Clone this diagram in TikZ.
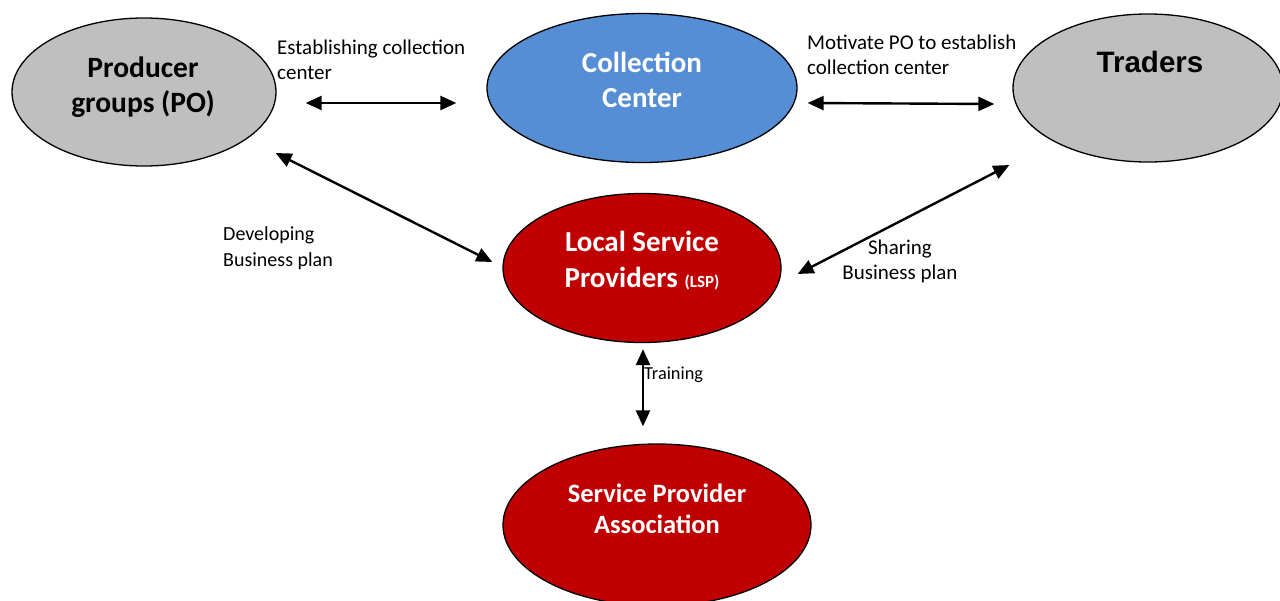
\documentclass[tikz,border=0pt]{standalone}
\usepackage{fontspec}
\setmainfont{Carlito}
\newfontfamily\arialfont{Liberation Sans}
\usetikzlibrary{shapes.geometric}
\usetikzlibrary{arrows.meta}
\usetikzlibrary{calc}
\definecolor{poGray}{RGB}{191,191,191}
\definecolor{ccBlue}{RGB}{85,142,213}
\definecolor{lspRed}{RGB}{192,0,0}

\begin{document}
\begin{tikzpicture}[x=1pt,y=-1pt,
    blob/.style={ellipse,draw=black,line width=1.3pt,inner sep=0pt},
    bigtxt/.style={font=\bfseries\fontsize{29.5}{35}\selectfont,align=center,inner sep=0pt},
    note/.style={font=\fontsize{21}{25}\selectfont,align=left,inner sep=0pt},
    link/.style={line width=2.4pt,{Triangle[length=16pt,width=14pt]}-{Triangle[length=16pt,width=14pt]}}]
                    \clip (0,0) rectangle (1280,600);
                    % the five groups
                    \node[blob,fill=poGray,minimum width=264,minimum height=148] (po) at (144,92) {};
                    \node[blob,fill=ccBlue,minimum width=310,minimum height=149] (cc) at (642,88) {};
                    \node[blob,fill=poGray,minimum width=270,minimum height=148] (tr) at (1148,88) {};
                    \node[blob,fill=lspRed,minimum width=278,minimum height=149] (lsp) at (642,268) {};
                    \node[blob,fill=lspRed,minimum width=308,minimum height=162] (spa) at (657,525) {};
                    \node[bigtxt] (po-txt) at (143,87) {Producer\\groups (PO)};
                    \node[bigtxt,text=white,font=\bfseries\fontsize{29}{35}\selectfont] (cc-txt) at (642,80) {Collection\\Center};
                    \node[bigtxt,font=\arialfont\bfseries\fontsize{29.5}{35}\selectfont] (tr-txt) at (1150,62) {Traders};
                    \node[bigtxt,text=white,font=\bfseries\fontsize{29}{36}\selectfont] (lsp-txt) at (642,261)
                        {Local Service\\Providers {\fontsize{17}{17}\selectfont(LSP)}};
                    \node[bigtxt,text=white,font=\bfseries\fontsize{26.5}{31}\selectfont] (spa-txt) at (657,509)
                        {Service Provider\\Association};
                    % links between them
                    \draw[link] ($(po.east)+(29,11)$) -- ($(cc.west)+(-30,15)$);
                    \draw[link] ($(cc.east)+(10,15)$) -- ($(tr.west)+(-18,16)$);
                    \draw[link] ($(po.east)+(-1,61)$) -- ($(lsp.west)+(-10,-6)$);
                    \draw[link] ($(lsp.east)+(16,6)$) -- ($(tr.west)+(-3,77)$);
                    \draw[link] ($(lsp.south)+(1,6)$) -- ($(spa.north)+(-14,-17)$);
                    \node[note,anchor=west] (est) at (277,60) {Establishing collection\\center};
                    \node[note,anchor=west] (mot) at (807,55) {Motivate PO to establish\\collection center};
                    \node[note,anchor=west,font=\fontsize{20}{26}\selectfont] (dev) at (223,248) {Developing\\Business plan};
                    \node[note,align=center] (sha) at (900,261) {Sharing\\Business plan};
                    \node[note,anchor=west,font=\fontsize{18.3}{22}\selectfont] (trn) at (644,375) {Training};
                \end{tikzpicture}
\end{document}
